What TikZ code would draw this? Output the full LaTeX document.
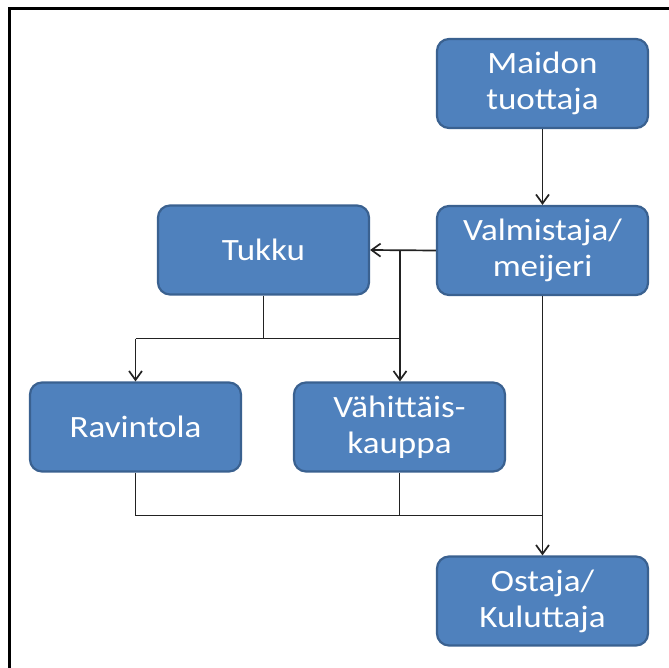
\documentclass[tikz,border=0pt]{standalone}
\usepackage{fontspec}
\usetikzlibrary{arrows.meta}
\newfontfamily\boxfont[FakeStretch=1.13]{Carlito}
\definecolor{boxfill}{HTML}{4F81BD}
\definecolor{boxline}{HTML}{3A6190}
\definecolor{wire}{HTML}{222222}
\tikzset{
  actor/.style={rectangle, rounded corners=12pt, draw=boxline, line width=2.2pt,
    fill=boxfill, text=white, align=center, minimum width=211pt,
    minimum height=89pt, inner sep=0pt,
    font=\boxfont\fontsize{31}{36}\selectfont},
  wireline/.style={draw=wire, line width=1.7pt},
  flow/.style={wireline, -{Straight Barb[length=9pt,width=13pt,line width=1.7pt]}},
}
\begin{document}
\begin{tikzpicture}[x=1pt, y=-1pt]
  \useasboundingbox (0,0) rectangle (668,668);
  % frame along the top and left edges
  \draw[line width=3pt, line cap=rect] (9,668) -- (9,9) -- (668,9);

  \node[actor] (maid)  at (542.5,83.5)  {Maidon\\tuottaja};
  \node[actor] (valm)  at (542.5,250.5) {Valmistaja/\\meijeri};
  \node[actor] (tukku) at (263.5,250)   {Tukku};
  \node[actor] (rav)   at (135.5,427)   {Ravintola};
  \node[actor] (vah)   at (399.5,427)   {Vähittäis-\\kauppa};
  \node[actor] (ost)   at (542.5,601)   {Ostaja/\\Kuluttaja};

  % producer to manufacturer
  \draw[flow] (maid.south) -- (valm.north);

  % manufacturer to wholesale and retail
  \coordinate (split) at (400,250);
  \draw[flow] (valm.west) -- (tukku.east);
  \draw[flow] (split) -- (split |- vah.north);

  % wholesale to restaurant and retail
  \draw[wireline] (tukku.south) -- ++(0,43) coordinate (tdown);
  \coordinate (tleft) at (tdown -| rav.north);
  \draw[wireline] (tleft) -- (tdown -| split);
  \draw[flow] (tleft) -- (rav.north);

  % everything to the consumer
  \draw[wireline] (rav.south) -- ++(0,43) coordinate (rdown);
  \draw[wireline] (rdown) -- (rdown -| valm.south);
  \draw[wireline] (vah.south) -- (vah.south |- rdown);
  \draw[flow] (valm.south) -- (ost.north);
\end{tikzpicture}
\end{document}
